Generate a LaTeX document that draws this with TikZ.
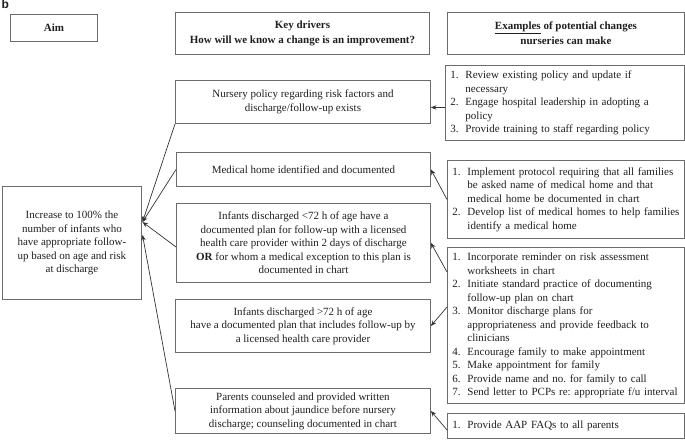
\documentclass[tikz,border=0pt]{standalone}
\usepackage{fontspec}
\setmainfont{Liberation Serif}
\newfontfamily\labelfont{Liberation Sans}
\usetikzlibrary{arrows.meta}
\definecolor{boxgray}{gray}{0.42}
\definecolor{linegray}{gray}{0.2}
\definecolor{txtgray}{gray}{0.12}
\newcommand\lstnum[2]{\mbox{\makebox[15pt][l]{#1}#2}}
\newcommand\lstcont[1]{\mbox{\hspace*{15pt}#1}}
\frenchspacing
\begin{document}
\begin{tikzpicture}[x=1pt,y=-1pt,
  box/.style={draw=boxgray, line width=0.9pt, anchor=north west, inner sep=3pt,
    align=center, text=txtgray, font=\fontsize{11}{13.5}\selectfont},
  headbox/.style={box, font=\fontsize{11}{13.5}\selectfont\bfseries},
  listbox/.style={box, inner xsep=5pt, text width=227pt, align=left},
  arr/.style={draw=linegray, line width=0.7pt, -{Stealth[length=5.5pt,width=4.5pt]}}
]
\useasboundingbox (0,0) rectangle (685,441);

\node[anchor=north west, inner sep=0pt, text=txtgray,
  font=\labelfont\bfseries\fontsize{12}{14}\selectfont] (blabel) at (1.5,0) {b};

% headers
\node[headbox, minimum width=87, minimum height=27] (aimhead) at (10,14) {Aim};
\node[headbox, minimum width=254, minimum height=42] (kdhead) at (175,12)
  {Key drivers\\[1.5pt]How will we know a change is an improvement?};
\node[headbox, minimum width=237, minimum height=42] (exhead) at (447,12)
  {\underline{Examples} of potential changes\\[1.5pt]nurseries can make};

% aim
\node[box, minimum width=139, minimum height=113] (aim) at (2,186)
  {Increase to 100\% the\\number of infants who\\have appropriate follow-\\up based on age and risk\\at discharge};

% key drivers
\node[box, minimum width=255, minimum height=43] (nursery) at (175,80)
  {Nursery policy regarding risk factors and\\discharge/follow-up exists};
\node[box, minimum width=254, minimum height=34] (med) at (176,152)
  {Medical home identified and documented};
\node[box, minimum width=254, minimum height=79] (lt72) at (176,203)
  {Infants discharged <72 h of age have a\\documented plan for follow-up with a licensed\\health care provider within 2 days of discharge\\\textbf{OR} for whom a medical exception to this plan is\\documented in chart};
\node[box, minimum width=255, minimum height=53] (gt72) at (175,299)
  {Infants discharged >72 h of age\\have a documented plan that includes follow-up by\\a licensed health care provider};
\node[box, minimum width=255, minimum height=45] (parents) at (175,388)
  {Parents counseled and provided written\\information about jaundice before nursery\\discharge; counseling documented in chart};

% examples
\node[listbox, text width=229pt, minimum height=75] (ex1) at (445,65)
  {\lstnum{1.}{Review existing policy and update if}\\
   \lstcont{necessary}\\
   \lstnum{2.}{Engage hospital leadership in adopting a}\\
   \lstcont{policy}\\
   \lstnum{3.}{Provide training to staff regarding policy}};
\node[listbox, minimum height=78] (ex2) at (447,160)
  {\lstnum{1.}{Implement protocol requiring that all families}\\
   \lstcont{be asked name of medical home and that}\\
   \lstcont{medical home be documented in chart}\\
   \lstnum{2.}{Develop list of medical homes to help families}\\
   \lstcont{identify a medical home}};
\node[listbox, minimum height=156] (ex3) at (447,247)
  {\lstnum{1.}{Incorporate reminder on risk assessment}\\
   \lstcont{worksheets in chart}\\
   \lstnum{2.}{Initiate standard practice of documenting}\\
   \lstcont{follow-up plan on chart}\\
   \lstnum{3.}{Monitor discharge plans for}\\
   \lstcont{appropriateness and provide feedback to}\\
   \lstcont{clinicians}\\
   \lstnum{4.}{Encourage family to make appointment}\\
   \lstnum{5.}{Make appointment for family}\\
   \lstnum{6.}{Provide name and no. for family to call}\\
   \lstnum{7.}{Send letter to PCPs re: appropriate f/u interval}};
\node[listbox, minimum height=25] (ex4) at (447,413)
  {\lstnum{1.}{Provide AAP FAQs to all parents}};

% converging connectors into the aim
\coordinate (tipA) at (142.5,222);
\coordinate (tipB) at (142.5,235);
\draw[arr] (nursery.south west) -- (tipA);
\draw[arr] (med.west) -- (tipA);
\draw[arr] ([yshift=-4pt]lt72.west) -- (tipA);
\draw[arr] (parents.west) -- (tipB);

% examples to key drivers
\coordinate (e1) at ([yshift=-4.5pt]ex1.west);
\draw[arr] (e1) -- (e1 -| nursery.east);
\draw[arr] (ex2.west) -- (med.east);
\coordinate (e3a) at ([yshift=-25pt]ex3.north west);
\coordinate (e3b) at ([yshift=-60pt]ex3.north west);
\draw[arr] (e3a) -- (lt72.east);
\draw[arr] (e3b) -- (gt72.east);
\coordinate (e4) at ([yshift=-4pt]ex4.west);
\draw[arr] (e4) -- (parents.east);
\end{tikzpicture}
\end{document}
